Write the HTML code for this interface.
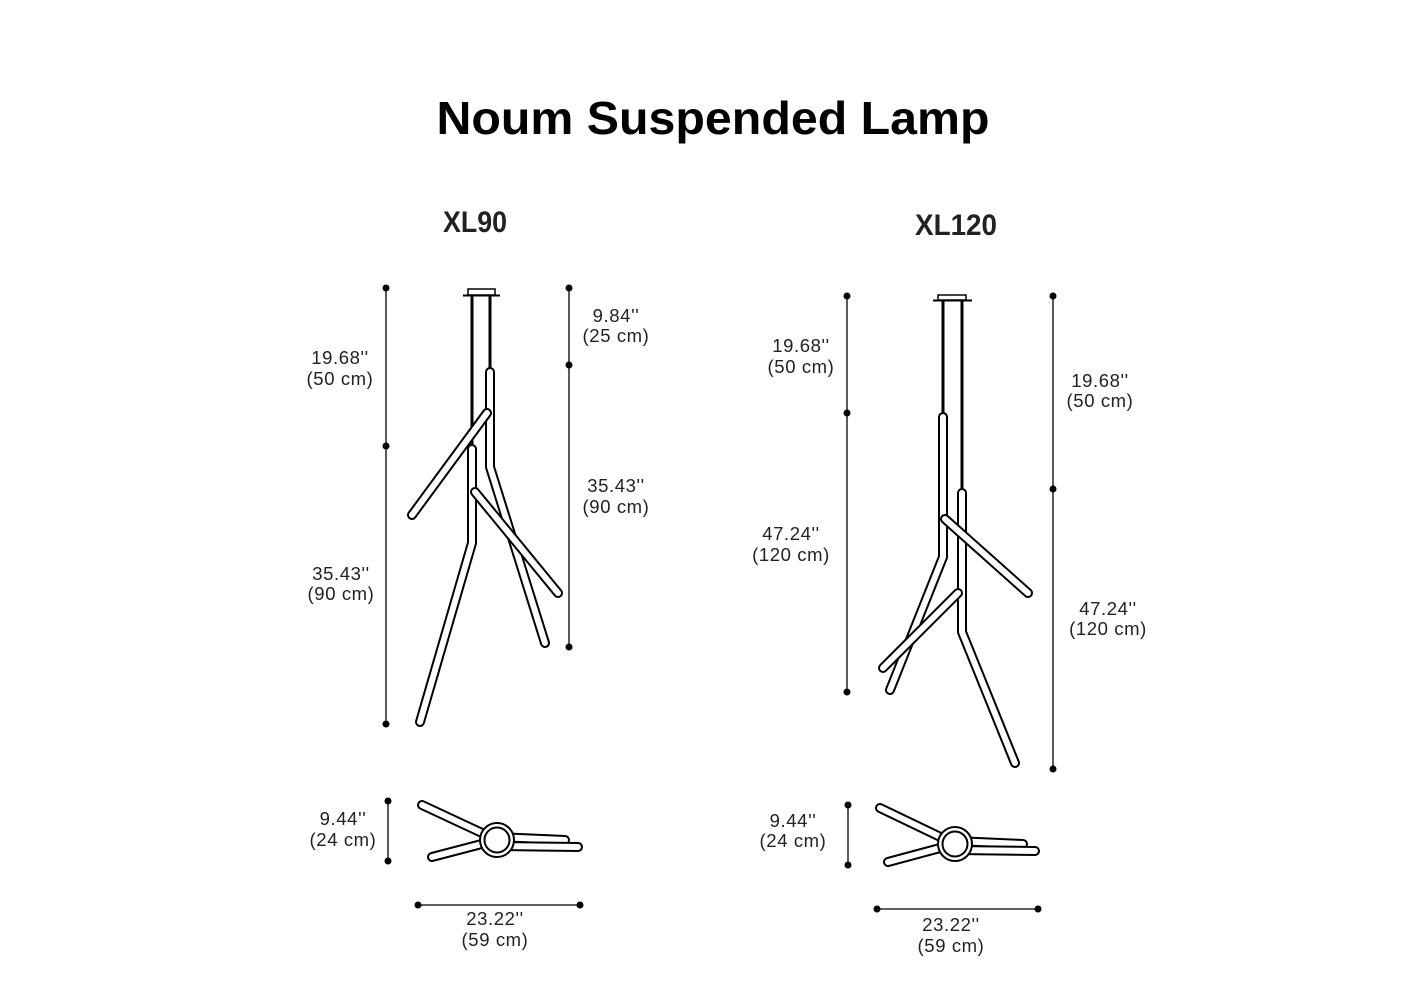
<!DOCTYPE html>
<html><head><meta charset="utf-8"><style>
html,body{margin:0;padding:0;background:#fff;}
svg{display:block;}
text{font-family:"Liberation Sans",sans-serif;}
.l{font-size:18.5px;fill:#222;text-anchor:middle;letter-spacing:0.6px;}
.t{stroke:#000;stroke-width:10;stroke-linecap:round;stroke-linejoin:round;fill:none;}
.w{stroke:#fff;stroke-width:6;stroke-linecap:round;stroke-linejoin:round;fill:none;}
.d{stroke:#000;stroke-width:1.3;}
</style></head><body>
<svg width="1420" height="1000" viewBox="0 0 1420 1000" xmlns="http://www.w3.org/2000/svg">
<text x="713" y="134" font-size="46" font-weight="bold" text-anchor="middle" textLength="553" lengthAdjust="spacingAndGlyphs">Noum Suspended Lamp</text>
<text x="475" y="232" font-size="30" font-weight="bold" text-anchor="middle" fill="#222" textLength="64" lengthAdjust="spacingAndGlyphs">XL90</text>
<text x="956" y="235" font-size="30" font-weight="bold" text-anchor="middle" fill="#222" textLength="82" lengthAdjust="spacingAndGlyphs">XL120</text>

<!-- XL90 side -->
<rect x="468" y="289" width="27" height="6" fill="#fff" stroke="#000" stroke-width="1.5"/>
<line x1="463" y1="295.5" x2="500" y2="295.5" stroke="#000" stroke-width="2"/>
<line x1="472" y1="295" x2="472" y2="447" stroke="#000" stroke-width="3"/>
<line x1="490" y1="295" x2="490" y2="370" stroke="#000" stroke-width="3"/>
<g>
<polyline class="t" points="490,372 490,467 545,643"/><polyline class="w" points="490,372 490,467 545,643"/>
<polyline class="t" points="472,449 472,543 420,722"/><polyline class="w" points="472,449 472,543 420,722"/>
<line class="t" x1="487" y1="413" x2="412" y2="515"/><line class="w" x1="487" y1="413" x2="412" y2="515"/>
<line class="t" x1="475" y1="492" x2="558" y2="593"/><line class="w" x1="475" y1="492" x2="558" y2="593"/>
</g>
<line class="d" x1="386" y1="288" x2="386" y2="724"/>
<circle cx="386" cy="288" r="3.5"/><circle cx="386" cy="446" r="3.5"/><circle cx="386" cy="724" r="3.5"/>
<line class="d" x1="569" y1="288" x2="569" y2="647"/>
<circle cx="569" cy="288" r="3.5"/><circle cx="569" cy="365" r="3.5"/><circle cx="569" cy="647" r="3.5"/>
<text class="l" x="340" y="364">19.68''</text><text class="l" x="340" y="385">(50 cm)</text>
<text class="l" x="616" y="322">9.84''</text><text class="l" x="616" y="342">(25 cm)</text>
<text class="l" x="616" y="492">35.43''</text><text class="l" x="616" y="513">(90 cm)</text>
<text class="l" x="341" y="580">35.43''</text><text class="l" x="341" y="600">(90 cm)</text>

<!-- XL120 side -->
<rect x="938" y="295" width="28" height="5" fill="#fff" stroke="#000" stroke-width="1.5"/>
<line x1="933" y1="300.5" x2="972" y2="300.5" stroke="#000" stroke-width="2"/>
<line x1="943" y1="300" x2="943" y2="415" stroke="#000" stroke-width="3"/>
<line x1="962" y1="300" x2="962" y2="491" stroke="#000" stroke-width="3"/>
<polyline class="t" points="943,417 943,557 890,690"/><polyline class="w" points="943,417 943,557 890,690"/>
<polyline class="t" points="962,493 962,632 1015,763"/><polyline class="w" points="962,493 962,632 1015,763"/>
<line class="t" x1="945" y1="519" x2="1028" y2="593"/><line class="w" x1="945" y1="519" x2="1028" y2="593"/>
<line class="t" x1="958" y1="593" x2="883" y2="668"/><line class="w" x1="958" y1="593" x2="883" y2="668"/>
<line class="d" x1="847" y1="296" x2="847" y2="692"/>
<circle cx="847" cy="296" r="3.5"/><circle cx="847" cy="413" r="3.5"/><circle cx="847" cy="692" r="3.5"/>
<line class="d" x1="1053" y1="296" x2="1053" y2="769"/>
<circle cx="1053" cy="296" r="3.5"/><circle cx="1053" cy="489" r="3.5"/><circle cx="1053" cy="769" r="3.5"/>
<text class="l" x="801" y="352">19.68''</text><text class="l" x="801" y="373">(50 cm)</text>
<text class="l" x="791" y="540">47.24''</text><text class="l" x="791" y="561">(120 cm)</text>
<text class="l" x="1100" y="387">19.68''</text><text class="l" x="1100" y="407">(50 cm)</text>
<text class="l" x="1108" y="615">47.24''</text><text class="l" x="1108" y="635">(120 cm)</text>

<!-- XL90 top view -->
<g>
<line class="t" x1="422" y1="805" x2="497" y2="840"/><line class="w" x1="422" y1="805" x2="497" y2="840"/>
<line class="t" x1="432" y1="857" x2="497" y2="840"/><line class="w" x1="432" y1="857" x2="497" y2="840"/>
<line class="t" x1="497" y1="837" x2="565" y2="840"/><line class="w" x1="497" y1="837" x2="565" y2="840"/>
<line class="t" x1="497" y1="846" x2="578" y2="847"/><line class="w" x1="497" y1="846" x2="578" y2="847"/>
<circle cx="497" cy="840" r="17" fill="#fff" stroke="#000" stroke-width="2"/>
<circle cx="497" cy="840" r="12.5" fill="#fff" stroke="#000" stroke-width="2"/>
</g>
<line class="d" x1="388" y1="801" x2="388" y2="861"/>
<circle cx="388" cy="801" r="3.5"/><circle cx="388" cy="861" r="3.5"/>
<line class="d" x1="418" y1="905" x2="580" y2="905"/>
<circle cx="418" cy="905" r="3.5"/><circle cx="580" cy="905" r="3.5"/>
<text class="l" x="343" y="825">9.44''</text><text class="l" x="343" y="846">(24 cm)</text>
<text class="l" x="495" y="925">23.22''</text><text class="l" x="495" y="946">(59 cm)</text>

<!-- XL120 top view -->
<g>
<line class="t" x1="880" y1="808" x2="955" y2="844"/><line class="w" x1="880" y1="808" x2="955" y2="844"/>
<line class="t" x1="888" y1="862" x2="955" y2="844"/><line class="w" x1="888" y1="862" x2="955" y2="844"/>
<line class="t" x1="955" y1="841" x2="1023" y2="844"/><line class="w" x1="955" y1="841" x2="1023" y2="844"/>
<line class="t" x1="955" y1="850" x2="1035" y2="851"/><line class="w" x1="955" y1="850" x2="1035" y2="851"/>
<circle cx="955" cy="844" r="17" fill="#fff" stroke="#000" stroke-width="2"/>
<circle cx="955" cy="844" r="12.5" fill="#fff" stroke="#000" stroke-width="2"/>
</g>
<line class="d" x1="848" y1="805" x2="848" y2="865"/>
<circle cx="848" cy="805" r="3.5"/><circle cx="848" cy="865" r="3.5"/>
<line class="d" x1="877" y1="909" x2="1038" y2="909"/>
<circle cx="877" cy="909" r="3.5"/><circle cx="1038" cy="909" r="3.5"/>
<text class="l" x="793" y="827">9.44''</text><text class="l" x="793" y="847">(24 cm)</text>
<text class="l" x="951" y="931">23.22''</text><text class="l" x="951" y="952">(59 cm)</text>
</svg>
</body></html>
